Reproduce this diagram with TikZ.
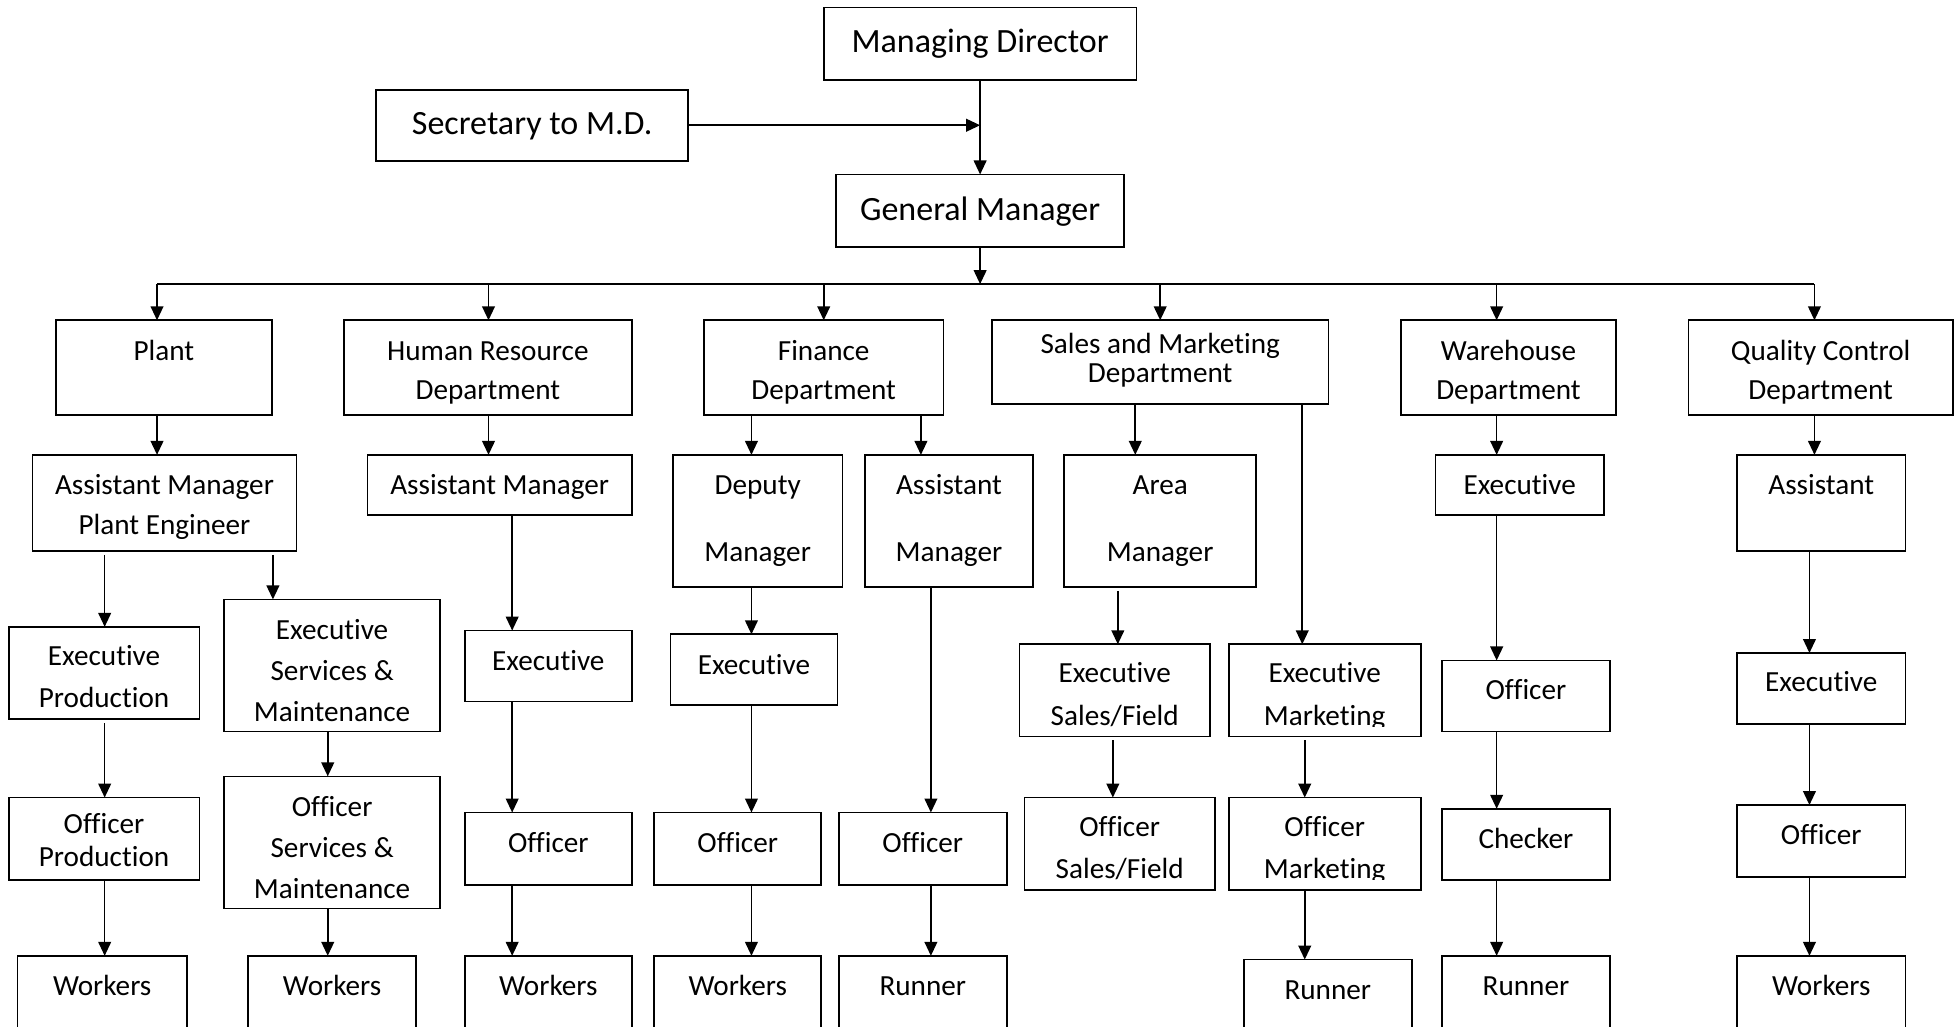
\documentclass[tikz,border=0pt]{standalone}
\usepackage{fontspec}
\setmainfont{Carlito}[Ligatures=NoCommon]
\usetikzlibrary{arrows.meta}

% \orgbox[label style]{name}{x1}{y1}{x2}{y2}{baseline/text, ...}
\newcommand\orgbox[7][lbl]{%
  \node[box, minimum width={(#5-#3)*0.6231pt}, minimum height={(#6-#4)*0.6231pt}]
    (#2) at ({(#3+#5)/2},{(#4+#6)/2}) {};
  \foreach \ty/\tx [count=\k] in {#7} {\node[#1] (#2-\k) at ({(#3+#5)/2},\ty) {\tx};}%
}
% \vconn[options]{from}{to}{x}
\newcommand\vconn[4][]{\draw[conn,#1] (#2.south -| #4,0) -- (#3.north -| #4,0);}

\begin{document}
\begin{tikzpicture}[x=0.6231pt,y=-0.6231pt,
  box/.style={draw, line width=0.85pt, rectangle, inner sep=0pt, outer sep=0pt},
  lbl/.style={anchor=base, inner sep=0pt, yshift=-0.6pt, font=\fontsize{14.6}{17}\selectfont},
  biglbl/.style={lbl, font=\fontsize{17}{20}\selectfont},
  conn/.style={line width=0.8pt, -{Triangle[length=7pt,width=6.4pt]}},
  wire/.style={line width=0.8pt}]
\useasboundingbox (0,0) rectangle (1568,824);
\clip (0,0) rectangle (1568,824);

% top management
\orgbox[biglbl]{md}{661}{6}{912}{64}{41/Managing Director}
\orgbox[biglbl]{sec}{302}{72}{552}{129}{107/Secretary to M.D.}
\orgbox[biglbl]{gm}{671}{140}{902}{198}{176/General Manager}

% departments
\orgbox{plant}{45}{257}{218}{333}{288/Plant}
\orgbox{hr}{276}{257}{507}{333}{288/Human Resource, 320/Department}
\orgbox{fin}{565}{257}{757}{333}{288/Finance, 320/Department}
\orgbox{sal}{796}{257}{1066}{324}{283/Sales and Marketing, 306/Department}
\orgbox{wh}{1124}{257}{1297}{333}{288/Warehouse, 320/Department}
\orgbox{qc}{1355}{257}{1567}{333}{288/Quality Control, 320/Department}

% second level
\orgbox{ape}{26}{365}{238}{442}{396/Assistant Manager, 428/Plant Engineer}
\orgbox{ham}{295}{365}{507}{413}{396/Assistant Manager}
\orgbox{dep}{540}{365}{676}{471}{396/Deputy, 450/Manager}
\orgbox{fam}{694}{365}{829}{471}{396/Assistant, 450/Manager}
\orgbox{area}{854}{365}{1008}{471}{396/Area, 450/Manager}
\orgbox{whe}{1152}{365}{1287}{413}{396/Executive}
\orgbox{qca}{1394}{365}{1529}{442}{396/Assistant}

% third level
\orgbox{exp}{7}{503}{160}{577}{533/Executive, 567/Production}
\orgbox{esm}{180}{481}{353}{587}{512/Executive, 545/Services \&, 578/Maintenance}
\orgbox{hre}{373}{506}{507}{563}{537/Executive}
\orgbox{fe}{538}{509}{672}{566}{540/Executive}
\orgbox{esf}{818}{517}{971}{591}{547/Executive, 581/{Sales/Field}}
\orgbox{emk}{986}{517}{1140}{591}{547/Executive}
\orgbox{who}{1157}{530}{1292}{587}{560/Officer}
\orgbox{qce}{1394}{524}{1529}{581}{554/Executive}

% fourth level
\orgbox{opr}{7}{640}{160}{706}{668/Officer, 694/Production}
\orgbox{osm}{180}{623}{353}{729}{654/Officer, 687/Services \&, 720/Maintenance}
\orgbox{hro}{373}{652}{507}{710}{683/Officer}
\orgbox{fo1}{525}{652}{659}{710}{683/Officer}
\orgbox{fo2}{673}{652}{808}{710}{683/Officer}
\orgbox{osf}{822}{640}{975}{714}{670/Officer, 704/{Sales/Field}}
\orgbox{omk}{986}{640}{1140}{714}{670/Officer}
\orgbox{chk}{1157}{649}{1292}{706}{680/Checker}
\orgbox{qco}{1394}{646}{1529}{704}{677/Officer}

% the marketing labels sit low and lose their descenders at the frame
\begin{scope}
  \clip (986,517) rectangle (1140,583);
  \node[lbl] (emk-2) at (1063,581) {Marketing};
\end{scope}
\begin{scope}
  \clip (986,640) rectangle (1140,706);
  \node[lbl] (omk-2) at (1063,704) {Marketing};
\end{scope}

% bottom level
\orgbox{w1}{14}{767}{150}{850}{798/Workers}
\orgbox{w2}{199}{767}{334}{850}{798/Workers}
\orgbox{w3}{373}{767}{507}{850}{798/Workers}
\orgbox{w4}{525}{767}{659}{850}{798/Workers}
\orgbox{r1}{673}{767}{808}{850}{798/Runner}
\orgbox{r2}{998}{770}{1133}{850}{801/Runner}
\orgbox{r3}{1157}{767}{1292}{850}{798/Runner}
\orgbox{w5}{1394}{767}{1529}{850}{798/Workers}

% top connectors
\draw[conn] (md.south) -- (gm.north);
\draw[conn] (sec.east) -- (sec.east -| md.south);
\coordinate (busL) at (126,228);
\coordinate (busR) at (1456,228);
\draw[conn] (gm.south) -- (gm.south |- busL);
\draw[wire] (busL) -- (busR);
\foreach \d/\x in {plant/126, hr/392, fin/661, sal/931, wh/1201, qc/1456}
  \draw[conn] (\x,228) -- (\d.north -| \x,0);

% department connectors
\vconn{plant}{ape}{126}
\vconn{hr}{ham}{392}
\vconn{fin}{dep}{603}
\vconn{fin}{fam}{739}
\vconn{sal}{area}{911}
\vconn{sal}{emk}{1045}
\vconn{wh}{whe}{1201}
\vconn{qc}{qca}{1456}

\vconn[shorten <=2pt]{ape}{exp}{84}
\vconn[shorten <=2pt]{ape}{esm}{219}
\vconn{ham}{hre}{411}
\vconn{dep}{fe}{603}
\vconn{fam}{fo2}{747}
\vconn[shorten <=2pt]{area}{esf}{897}
\vconn{whe}{who}{1201}
\vconn{qca}{qce}{1452}

\vconn[shorten <=2pt]{exp}{opr}{84}
\vconn{esm}{osm}{263}
\vconn{hre}{hro}{411}
\vconn{fe}{fo1}{603}
\vconn[shorten <=2pt]{esf}{osf}{893}
\vconn[shorten <=2pt]{emk}{omk}{1047}
\vconn{who}{chk}{1201}
\vconn{qce}{qco}{1452}

\vconn{opr}{w1}{84}
\vconn{osm}{w2}{263}
\vconn{hro}{w3}{411}
\vconn{fo1}{w4}{603}
\vconn{fo2}{r1}{747}
\vconn{omk}{r2}{1047}
\vconn{chk}{r3}{1201}
\vconn{qco}{w5}{1452}
\end{tikzpicture}
\end{document}
